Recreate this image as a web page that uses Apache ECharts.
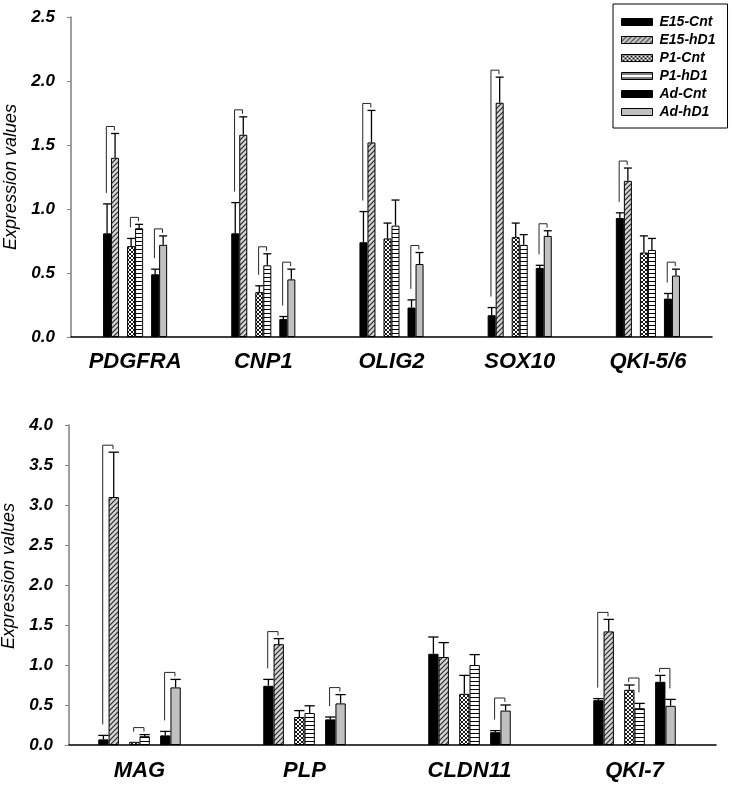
<!DOCTYPE html>
<html><head><meta charset="utf-8">
<script src="https://cdn.jsdelivr.net/npm/echarts@6/dist/echarts.min.js"></script>
<style>html,body{margin:0;padding:0;background:#fff}#c{width:732px;height:785px}</style>
</head><body><div id="c"></div>
<script>
// ---------- DATA ----------
const seriesNames = ['E15-Cnt','E15-hD1','P1-Cnt','P1-hD1','Ad-Cnt','Ad-hD1'];

// Top panel
const topCategories = ['PDGFRA','CNP1','OLIG2','SOX10','QKI-5/6'];
const topE15Cnt = [0.81, 0.81, 0.74, 0.17, 0.93];
const topE15hD1 = [1.40, 1.58, 1.52, 1.83, 1.22];
const topP1Cnt  = [0.71, 0.35, 0.77, 0.78, 0.66];
const topP1hD1  = [0.85, 0.56, 0.87, 0.72, 0.68];
const topAdCnt  = [0.49, 0.14, 0.23, 0.54, 0.30];
const topAdhD1  = [0.72, 0.45, 0.57, 0.79, 0.48];
const topE15CntSD = [0.23, 0.24, 0.24, 0.06, 0.04];
const topE15hD1SD = [0.19, 0.14, 0.25, 0.20, 0.10];
const topP1CntSD  = [0.06, 0.05, 0.12, 0.11, 0.13];
const topP1hD1SD  = [0.03, 0.09, 0.20, 0.08, 0.09];
const topAdCntSD  = [0.04, 0.02, 0.06, 0.02, 0.04];
const topAdhD1SD  = [0.07, 0.08, 0.09, 0.04, 0.05];
const topSigE15 = [1,1,1,1,1];
const topSigP1  = [1,1,0,0,0];
const topSigAd  = [1,1,1,1,1];
const topYTicks = [0.0, 0.5, 1.0, 1.5, 2.0, 2.5];

// Bottom panel
const botCategories = ['MAG','PLP','CLDN11','QKI-7'];
const botE15Cnt = [0.07, 0.74, 1.14, 0.56];
const botE15hD1 = [3.10, 1.26, 1.10, 1.42];
const botP1Cnt  = [0.04, 0.35, 0.64, 0.69];
const botP1hD1  = [0.11, 0.40, 1.00, 0.46];
const botAdCnt  = [0.12, 0.32, 0.16, 0.79];
const botAdhD1  = [0.72, 0.52, 0.43, 0.49];
const botE15CntSD = [0.05, 0.08, 0.21, 0.02];
const botE15hD1SD = [0.56, 0.07, 0.18, 0.15];
const botP1CntSD  = [0.00, 0.08, 0.23, 0.06];
const botP1hD1SD  = [0.02, 0.09, 0.13, 0.06];
const botAdCntSD  = [0.05, 0.03, 0.02, 0.08];
const botAdhD1SD  = [0.10, 0.11, 0.07, 0.08];
const botSigE15 = [1,1,0,1];
const botSigP1  = [1,0,0,1];
const botSigAd  = [1,1,1,1];
const botYTicks = [0.0, 0.5, 1.0, 1.5, 2.0, 2.5, 3.0, 3.5, 4.0];

// ---------- STYLE ----------
const FONT = '"Liberation Sans", Arial, sans-serif';
function pat(w, h, draw) {
  const c = document.createElement('canvas'); c.width = w; c.height = h;
  const g = c.getContext('2d'); draw(g, w, h);
  return { image: c, repeat: 'repeat' };
}
const fillHatch = pat(5, 5, (g, w, h) => {
  g.fillStyle = '#d4d4d4'; g.fillRect(0, 0, w, h);
  g.strokeStyle = '#2a2a2a'; g.lineWidth = 1.2; g.beginPath();
  g.moveTo(-1, h + 1); g.lineTo(w + 1, -1);
  g.moveTo(-1, 1); g.lineTo(1, -1);
  g.moveTo(w - 1, h + 1); g.lineTo(w + 1, h - 1);
  g.stroke();
});
const fillCross = pat(4, 4, (g, w, h) => {
  g.fillStyle = '#fff'; g.fillRect(0, 0, w, h);
  g.strokeStyle = '#000'; g.lineWidth = 0.9; g.beginPath();
  g.moveTo(0, 0); g.lineTo(w, h); g.moveTo(0, h); g.lineTo(w, 0);
  g.stroke();
});
const fillHoriz = pat(4, 4, (g, w, h) => {
  g.fillStyle = '#fff'; g.fillRect(0, 0, w, h);
  g.fillStyle = '#000'; g.fillRect(0, 1, w, 1);
});
const fills = ['#000', fillHatch, fillCross, fillHoriz, '#000', '#c0c0c0'];
const slotOf = [0, 1, 3, 4, 6, 7];

function buildPanel(gi, cats, vals, sds, sigs) {
  const out = [];
  const order = [0, 1, 'g', 2, 3, 'g', 4, 5];
  order.forEach((s, i) => {
    if (s === 'g') {
      out.push({ type: 'bar', name: '_gap' + i, xAxisIndex: gi, yAxisIndex: gi,
        data: cats.map(() => '-'), barWidth: '6.25%', barGap: '0%', silent: true });
    } else {
      out.push({ type: 'bar', name: seriesNames[s], xAxisIndex: gi, yAxisIndex: gi,
        data: vals[s], barWidth: '6.25%', barGap: '0%', silent: true,
        itemStyle: { color: fills[s], borderColor: '#000', borderWidth: 1 } });
    }
  });
  // error bars
  const errData = [];
  vals.forEach((arr, s) => arr.forEach((v, c) => {
    if (sds[s][c] > 0) errData.push([c, slotOf[s], v, sds[s][c]]);
  }));
  out.push({ type: 'custom', xAxisIndex: gi, yAxisIndex: gi, data: errData,
    encode: { x: 0, y: 2 }, z: 5, silent: true,
    renderItem: (p, api) => {
      const c = api.value(0), slot = api.value(1), v = api.value(2), e = api.value(3);
      const p0 = api.coord([c, v]), p1 = api.coord([c, v + e]);
      const band = api.size([1, 0])[0], sw = band / 16;
      const x = p0[0] - band / 4 + sw * (slot + 0.5);
      const st = { stroke: '#000', lineWidth: 1.3 };
      return { type: 'group', children: [
        { type: 'line', shape: { x1: x, y1: p0[1], x2: x, y2: p1[1] }, style: st },
        { type: 'line', shape: { x1: x - sw / 2, y1: p1[1], x2: x + sw / 2, y2: p1[1] }, style: st }
      ] };
    } });
  // significance brackets
  const brData = [];
  sigs.forEach((sig, k) => sig.forEach((f, c) => {
    if (f) brData.push([c, k, vals[2 * k][c] + sds[2 * k][c], vals[2 * k + 1][c] + sds[2 * k + 1][c]]);
  }));
  out.push({ type: 'custom', xAxisIndex: gi, yAxisIndex: gi, data: brData,
    encode: { x: 0, y: 2 }, z: 6, silent: true,
    renderItem: (p, api) => {
      const c = api.value(0), k = api.value(1);
      const pL = api.coord([c, api.value(2)]), pR = api.coord([c, api.value(3)]);
      const band = api.size([1, 0])[0], sw = band / 16;
      const xL = pL[0] - band / 4 + sw * (3 * k + 0.5) - 0.7, xR = xL + sw;
      const by = Math.min(pL[1], pR[1]) - 7;
      const yL = Math.max(by + 4, pL[1] - 11), yR = Math.max(by + 4, pR[1] - 11);
      return { type: 'polyline', shape: { points: [[xL, yL], [xL, by], [xR, by], [xR, yR]] },
        style: { stroke: '#262626', lineWidth: 1, fill: null } };
    } });
  return out;
}

const topVals = [topE15Cnt, topE15hD1, topP1Cnt, topP1hD1, topAdCnt, topAdhD1];
const topSDs = [topE15CntSD, topE15hD1SD, topP1CntSD, topP1hD1SD, topAdCntSD, topAdhD1SD];
const botVals = [botE15Cnt, botE15hD1, botP1Cnt, botP1hD1, botAdCnt, botAdhD1];
const botSDs = [botE15CntSD, botE15hD1SD, botP1CntSD, botP1hD1SD, botAdCntSD, botAdhD1SD];

const yLabelStyle = { fontFamily: FONT, fontSize: 17, fontWeight: 'bold', fontStyle: 'italic', color: '#000' };
const xLabelStyle = { fontFamily: FONT, fontSize: 22, fontWeight: 'bold', fontStyle: 'italic', color: '#000', interval: 0 };
const nameStyle = { fontFamily: FONT, fontSize: 18, fontStyle: 'italic', color: '#000' };

const option = {
  animation: false,
  backgroundColor: '#fff',
  grid: [
    { left: 71, right: 20, top: 17, bottom: 448, containLabel: false, outerBoundsMode: 'none' },
    { left: 57, right: 15, top: 425, bottom: 40, containLabel: false, outerBoundsMode: 'none' },
    { left: 69, right: 16, top: 425, bottom: 40, containLabel: false, outerBoundsMode: 'none' }
  ],
  xAxis: [
    { gridIndex: 0, type: 'category', data: topCategories,
      axisLine: { lineStyle: { color: '#000', width: 1.5 } }, axisTick: { show: false },
      axisLabel: Object.assign({ margin: 14 }, xLabelStyle) },
    { gridIndex: 1, type: 'category', data: botCategories,
      axisLine: { show: false }, axisTick: { show: false },
      axisLabel: Object.assign({ margin: 15 }, xLabelStyle) },
    { gridIndex: 2, type: 'value', min: 0, max: 1,
      axisLine: { lineStyle: { color: '#000', width: 1.5 } }, axisTick: { show: false },
      axisLabel: { show: false }, splitLine: { show: false } }
  ],
  yAxis: [
    { gridIndex: 0, type: 'value', min: topYTicks[0], max: topYTicks[topYTicks.length - 1],
      interval: topYTicks[1] - topYTicks[0],
      axisLine: { show: true, lineStyle: { color: '#808080', width: 1.5 } },
      axisTick: { show: true, length: 4, lineStyle: { color: '#808080' } },
      splitLine: { show: false },
      axisLabel: Object.assign({ margin: 16, formatter: v => v.toFixed(1) }, yLabelStyle),
      name: 'Expression values', nameLocation: 'middle', nameRotate: 90, nameGap: 51,
      nameTextStyle: nameStyle },
    { gridIndex: 1, type: 'value', min: botYTicks[0], max: botYTicks[botYTicks.length - 1], show: false },
    { gridIndex: 2, type: 'value', min: botYTicks[0], max: botYTicks[botYTicks.length - 1],
      interval: botYTicks[1] - botYTicks[0],
      axisLine: { show: true, lineStyle: { color: '#808080', width: 1.5 } },
      axisTick: { show: true, length: 4, lineStyle: { color: '#808080' } },
      splitLine: { show: false },
      axisLabel: Object.assign({ margin: 16, formatter: v => v.toFixed(1) }, yLabelStyle),
      name: 'Expression values', nameLocation: 'middle', nameRotate: 90, nameGap: 49,
      nameTextStyle: Object.assign({ padding: [0, 0, 0, 18] }, nameStyle) }
  ],
  legend: {
    data: seriesNames, orient: 'vertical', left: 613, top: 4,
    padding: [11, 12, 9, 8], itemWidth: 31, itemHeight: 7, itemGap: 4,
    borderColor: '#000', borderWidth: 1, backgroundColor: '#fff', icon: 'rect',
    selectedMode: false,
    itemStyle: { borderColor: '#000', borderWidth: 1 },
    textStyle: { fontFamily: FONT, fontSize: 14, fontWeight: 'bold', fontStyle: 'italic', color: '#000', padding: [0, 0, 0, 2] }
  },
  series: [].concat(
    buildPanel(0, topCategories, topVals, topSDs, [topSigE15, topSigP1, topSigAd]),
    buildPanel(1, botCategories, botVals, botSDs, [botSigE15, botSigP1, botSigAd])
  )
};
const chart = echarts.init(document.getElementById('c'), null, { renderer: 'canvas' });
chart.setOption(option);
</script>
</body></html>
